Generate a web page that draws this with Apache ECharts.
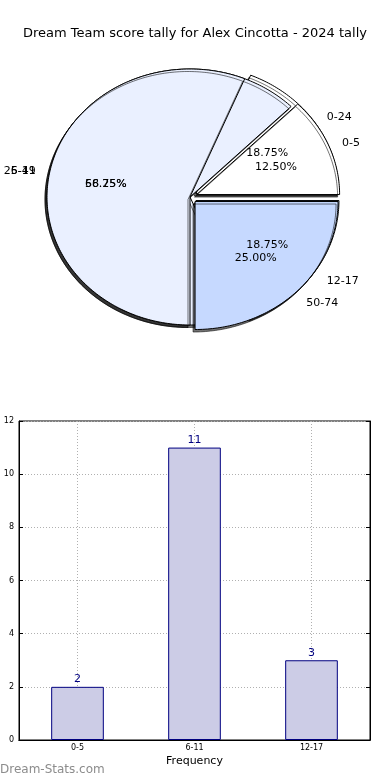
<!DOCTYPE html>
<html>
<head>
<meta charset="utf-8">
<script src="https://cdn.jsdelivr.net/npm/echarts@6/dist/echarts.min.js"></script>
<style>
html,body{margin:0;padding:0;background:#fff;}
#chart{width:390px;height:780px;}
</style>
</head>
<body>
<div id="chart"></div>
<script>
// ---- data ----
const titleText = 'Dream Team score tally for Alex Cincotta - 2024 tally';
const scoreCats = ['0-24', '25-49', '50-74'];
const scoreVals = [3, 9, 4];
const scoreExplode = [0.05, 0, 0.05];
const freqCats = ['0-5', '6-11', '12-17'];
const freqVals = [2, 11, 3];
const freqExplode = [0.05, 0, 0.05];
const yTickMax = 12;
const yTickStep = 2;
const xAxisName = 'Frequency';
const yAxisName = 'Score Tally';
const watermark = 'Dream-Stats.com';

// ---- styles ----
const FONT = 'DejaVu Sans';
const pieColors = ['#ffffff', '#eaf0ff', '#c6d9ff'];
const LABEL_DIST = 1.1;
const PCT_DIST = 0.6;
const TEXT_DY = 2;

// ---- build wedges (counter-clockwise from 3 o'clock, as in the source) ----
function wedges(pieId, cats, vals, explode) {
  const total = vals.reduce((a, b) => a + b, 0);
  let acc = 0;
  return cats.map((c, i) => {
    const s = acc / total * 360;
    acc += vals[i];
    const e = acc / total * 360;
    return {pie: pieId, idx: i, name: c, start: s, end: e, ex: explode[i],
            pct: (vals[i] / total * 100).toFixed(2) + '%'};
  });
}
const A = wedges('score', scoreCats, scoreVals, scoreExplode);
const B = wedges('freq', freqCats, freqVals, freqExplode);
// stacking order seen in the source picture
const drawOrder = [A[0], B[0], B[1], B[2], A[1], A[2]];

const labelItems = [];
[A, B].forEach(p => p.forEach(w => {
  const mid = (w.start + w.end) / 2;
  labelItems.push({text: w.name, mid: mid, dist: LABEL_DIST, ex: w.ex, side: true});
  labelItems.push({text: w.pct, mid: mid, dist: PCT_DIST, ex: w.ex, side: false});
}));

function renderWedge(params, api) {
  const s = api.value(0), e = api.value(1), ex = api.value(2), ci = api.value(3);
  const m = (s + e) / 2 * Math.PI / 180;
  const ox = ex * Math.cos(m), oy = ex * Math.sin(m);
  const pts = [api.coord([ox, oy])];
  const n = Math.max(4, Math.ceil(e - s));
  for (let k = 0; k <= n; k++) {
    const a = (s + (e - s) * k / n) * Math.PI / 180;
    pts.push(api.coord([ox + Math.cos(a), oy + Math.sin(a)]));
  }
  return {
    type: 'polygon',
    shape: {points: pts},
    style: {
      fill: pieColors[ci], stroke: '#000', lineWidth: 1,
      shadowColor: 'rgba(0,0,0,0.55)', shadowBlur: 0, shadowOffsetX: -2, shadowOffsetY: 2.5
    }
  };
}

function renderLabel(params, api) {
  const item = labelItems[params.dataIndex];
  const m = api.value(0) * Math.PI / 180, d = api.value(1), ex = api.value(2);
  const c = Math.cos(m), s = Math.sin(m);
  const pt = api.coord([(d + ex) * c, (d + ex) * s]);
  return {
    type: 'text', x: pt[0], y: pt[1] + TEXT_DY,
    style: {
      text: item.text, fill: '#000', font: '11px "DejaVu Sans"',
      align: item.side ? (c > 0 ? 'left' : 'right') : 'center',
      verticalAlign: 'middle'
    }
  };
}

const chart = echarts.init(document.getElementById('chart'), null, {renderer: 'canvas'});
chart.setOption({
  animation: false,
  backgroundColor: '#fff',
  textStyle: {fontFamily: FONT},
  title: {
    text: titleText, left: 'center', top: 22,
    textStyle: {fontFamily: FONT, fontSize: 13, fontWeight: 'normal', color: '#000'}
  },
  graphic: [{
    type: 'text', left: 0, top: 764,
    style: {text: watermark, fill: '#8c8c8c', font: '12px "DejaVu Sans"'}
  }],
  grid: [{
    left: 19, right: 20, top: 421, bottom: 40,
    containLabel: false, outerBoundsMode: 'none',
    show: true, borderColor: '#000', borderWidth: 1, backgroundColor: '#fff'
  }, {
    // pie axes box: unit radius = 143 px wide, 128 px tall, centre (190,197)
    left: 47, right: 57, top: 69, bottom: 455,
    containLabel: false, outerBoundsMode: 'none', show: false
  }],
  xAxis: [{
    type: 'category', data: freqCats, position: 'bottom', gridIndex: 0,
    name: xAxisName, nameLocation: 'middle', nameGap: 16,
    nameTextStyle: {fontFamily: FONT, fontSize: 11, color: '#000'},
    axisLine: {lineStyle: {color: '#000'}},
    axisTick: {inside: true, alignWithLabel: true, length: 4, lineStyle: {color: '#000'}},
    axisLabel: {fontFamily: FONT, fontSize: 8, color: '#000', margin: 4},
    splitLine: {show: true, alignWithLabel: true, lineStyle: {color: '#b0b0b0', type: [1, 2]}}
  }, {
    type: 'category', data: freqCats, position: 'top', gridIndex: 0,
    axisLine: {lineStyle: {color: '#000'}},
    axisTick: {inside: true, alignWithLabel: true, length: 4, lineStyle: {color: '#000'}},
    axisLabel: {show: false}, splitLine: {show: false}
  }, {
    type: 'value', gridIndex: 1, min: -1, max: 1, show: false
  }],
  yAxis: [{
    type: 'value', min: 0, max: yTickMax, interval: yTickStep, position: 'left', gridIndex: 0,
    name: yAxisName, nameLocation: 'middle', nameGap: 13, nameRotate: 90,
    nameTextStyle: {fontFamily: FONT, fontSize: 11, color: '#000'},
    axisLine: {show: true, lineStyle: {color: '#000'}},
    axisTick: {show: true, inside: true, length: 4, lineStyle: {color: '#000'}},
    axisLabel: {fontFamily: FONT, fontSize: 8, color: '#000', margin: 5},
    splitLine: {show: true, lineStyle: {color: '#b0b0b0', type: [1, 2]}}
  }, {
    type: 'value', min: 0, max: yTickMax, interval: yTickStep, position: 'right', gridIndex: 0,
    axisLine: {show: true, lineStyle: {color: '#000'}},
    axisTick: {show: true, inside: true, length: 4, lineStyle: {color: '#000'}},
    axisLabel: {show: false}, splitLine: {show: false}
  }, {
    type: 'value', gridIndex: 1, min: -1, max: 1, show: false
  }],
  series: [
    {
      type: 'custom', name: 'pies', coordinateSystem: 'cartesian2d',
      xAxisIndex: 2, yAxisIndex: 2, silent: true, clip: false,
      renderItem: renderWedge,
      data: drawOrder.map(w => ({name: w.name, value: [w.start, w.end, w.ex, w.idx]})),
      z: 2
    },
    {
      type: 'custom', name: 'pie labels', coordinateSystem: 'cartesian2d',
      xAxisIndex: 2, yAxisIndex: 2, silent: true, clip: false,
      renderItem: renderLabel,
      data: labelItems.map(l => [l.mid, l.dist, l.ex]),
      z: 3
    },
    {
      type: 'bar', xAxisIndex: 0, yAxisIndex: 0,
      data: freqVals, barWidth: '45%',
      itemStyle: {color: '#ccccE6', borderColor: '#000080', borderWidth: 1},
      label: {show: true, position: 'top', distance: 2, color: '#000080', fontFamily: FONT, fontSize: 11},
      emphasis: {disabled: true},
      animation: false
    }
  ]
});
</script>
</body>
</html>
